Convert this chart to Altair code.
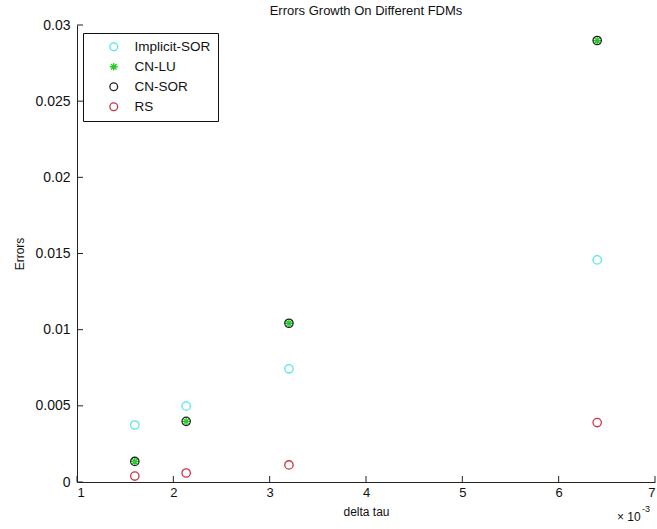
import altair as alt
import pandas as pd

# ---- data ----
series = ["Implicit-SOR", "CN-LU", "CN-SOR", "RS"]
delta_tau = [1.6, 2.1333, 3.2, 6.4]          # x 10^-3
implicit_sor = [0.00374, 0.00498, 0.00743, 0.01458]
cn_lu = [0.00135, 0.00398, 0.01042, 0.02898]
cn_sor = [0.00135, 0.00398, 0.01042, 0.02898]
rs = [0.00039, 0.00059, 0.00112, 0.00390]

x_ticks = [1, 2, 3, 4, 5, 6, 7]
y_ticks = [0, 0.005, 0.01, 0.015, 0.02, 0.025, 0.03]

colors = ["#55e4ee", "#22cc22", "#222222", "#cc3344"]
asterisk = "M-1,0L1,0M0,-1L0,1M-0.72,-0.72L0.72,0.72M-0.72,0.72L0.72,-0.72"
shapes = ["circle", asterisk, "circle", "circle"]

rows = []
for name, vals in zip(series, [implicit_sor, cn_lu, cn_sor, rs]):
    for x, y in zip(delta_tau, vals):
        rows.append({"series": name, "dt": x, "err": y})
df = pd.DataFrame(rows)

FONT = "Liberation Sans"
W, H = 578, 457

xscale = alt.Scale(domain=[1, 7], nice=False, zero=False)
yscale = alt.Scale(domain=[0, 0.03], nice=False)

x_axis = alt.Axis(values=x_ticks, title="delta tau", tickSize=0, labelPadding=4,
                  format="d", titlePadding=7, grid=False, labelFontSize=13)
y_axis = alt.Axis(values=y_ticks, title="Errors", tickSize=0, labelPadding=7,
                  format="~g", titlePadding=8, grid=False, labelFontSize=14)

legend = alt.Legend(
    title=None, orient="none", legendX=6, legendY=8,
    strokeColor="#111111", fillColor="white", padding=7,
    symbolOffset=17, labelOffset=14, labelFontSize=13.5, labelFont=FONT,
    labelColor="#111111", rowPadding=5, symbolSize=60, symbolStrokeWidth=1.3,
)

points = alt.Chart(df).mark_point(filled=False, size=70, strokeWidth=1.3, opacity=1).encode(
    x=alt.X("dt:Q", scale=xscale, axis=x_axis, title="delta tau"),
    y=alt.Y("err:Q", scale=yscale, axis=y_axis, title="Errors"),
    color=alt.Color("series:N", scale=alt.Scale(domain=series, range=colors), legend=legend),
    shape=alt.Shape("series:N", scale=alt.Scale(domain=series, range=shapes), legend=legend),
)

xt = pd.DataFrame({"v": x_ticks})
yt = pd.DataFrame({"v": y_ticks})

xtick_marks = alt.Chart(xt).mark_rule(color="#222222", strokeWidth=1).encode(
    x=alt.X("v:Q", scale=xscale, axis=x_axis, title="delta tau"),
    y=alt.value(H), y2=alt.value(H - 6)
)
ytick_marks = alt.Chart(yt).mark_rule(color="#222222", strokeWidth=1).encode(
    y=alt.Y("v:Q", scale=yscale, axis=y_axis, title="Errors"),
    x=alt.value(0), x2=alt.value(6)
)

exp_text = alt.Chart(pd.DataFrame({"t": ["\u00d7 10"]})).mark_text(
    font=FONT, fontSize=12, align="left", baseline="alphabetic", color="#111111"
).encode(text="t:N", x=alt.value(540), y=alt.value(H + 39))
exp_sup = alt.Chart(pd.DataFrame({"t": ["-3"]})).mark_text(
    font=FONT, fontSize=9, align="left", baseline="alphabetic", color="#111111"
).encode(text="t:N", x=alt.value(565), y=alt.value(H + 30))

chart = alt.layer(points, xtick_marks, ytick_marks, exp_text, exp_sup).properties(
    width=W, height=H,
    background="white",
    title=alt.TitleParams("Errors Growth On Different FDMs", font=FONT, fontSize=13,
                          fontWeight="normal", color="#111111", offset=0, anchor="middle"),
    autosize=alt.AutoSizeParams(type="none"),
    padding={"left": 77, "top": 25, "right": 2, "bottom": 47},
).configure_view(stroke=None).configure_axis(
    domainColor="#222222", domainWidth=1, grid=False,
    labelFont=FONT, labelFontSize=13, labelColor="#111111",
    titleFont=FONT, titleFontSize=12, titleFontWeight="normal", titleColor="#111111",
)

chart.save("out.html", embed_options={"renderer": "svg", "actions": False})
